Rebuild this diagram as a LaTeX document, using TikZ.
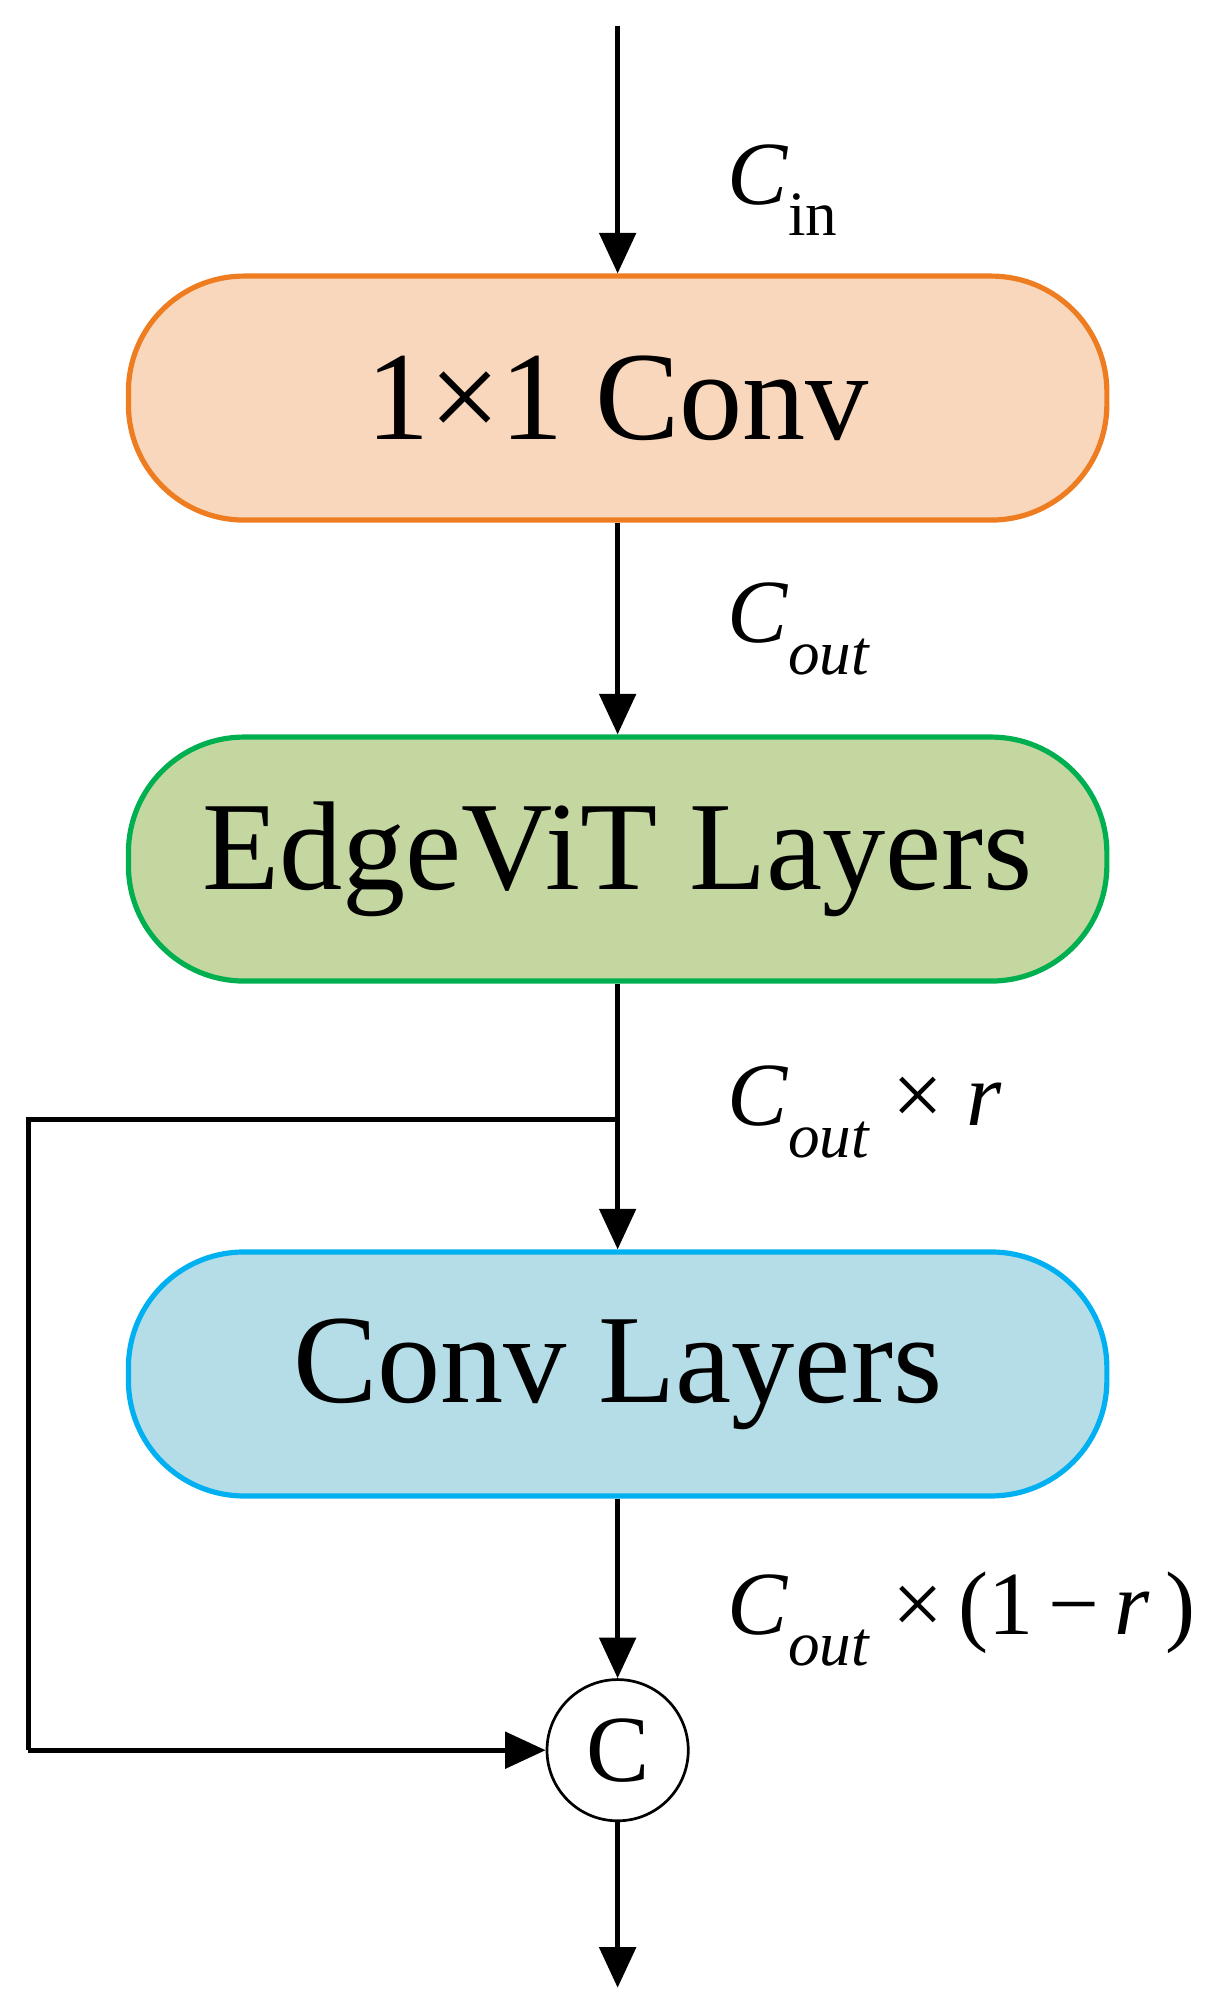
\documentclass[tikz,border=0pt]{standalone}
\usepackage{fontspec}
\setmainfont{Liberation Serif}
\usetikzlibrary{arrows.meta}
\definecolor{ob}{HTML}{EE7D22}\definecolor{of}{HTML}{F9D7BC}
\definecolor{gb}{HTML}{00B050}\definecolor{gf}{HTML}{C4D7A0}
\definecolor{bb}{HTML}{00B0F0}\definecolor{bf}{HTML}{B5DDE7}
\newcommand{\Cl}{\textit{C}}
\newcommand{\sbx}[1]{\raisebox{-0.35em}{\fontsize{28}{28}\selectfont #1}}
\begin{document}
\begin{tikzpicture}[x=0.02cm,y=-0.02cm,
 box/.style={rounded corners=0.02cm*90,line width=2.3pt,minimum width=0.02cm*762,minimum height=0.02cm*190,font=\fontsize{56}{60}\selectfont},
 ar/.style={line width=2.3pt,-{Triangle[length=18pt,width=16pt]}},
 ln/.style={line width=2.3pt},
 lab/.style={anchor=west,font=\fontsize{40}{42}\selectfont}]
\useasboundingbox (0,0) rectangle (948,1563);
\coordinate (top) at (481,20);
\node[box,draw=ob,fill=of] (b1) at (481,310) {1×1 Conv};
\node[box,draw=gb,fill=gf] (b2) at (481,669) {EdgeViT Layers};
\node[box,draw=bb,fill=bf] (b3) at (481,1070) {Conv Layers};
\node[circle,draw,line width=1.2pt,minimum size=0.02cm*110,inner sep=0pt,font=\fontsize{42}{42}\selectfont] (c) at (481,1363) {C};
\coordinate (end) at (481,1548);
\coordinate (j) at (481,872);
\coordinate (l1) at (22,872);
\coordinate (l2) at (22,1363);
\draw[ar] (top) -- (b1.north);
\draw[ar] (b1.south) -- (b2.north);
\draw[ar] (b2.south) -- (b3.north);
\draw[ar] (b3.south) -- (c.north);
\draw[ar] (c.south) -- (end);
\draw[ln] (j) -- (l1) -- (l2);
\draw[ar] (l2) -- (c.west);
\node[lab] (t1) at (560,148) {\Cl\sbx{in}};
\node[lab] (t2) at (560,490) {\Cl\sbx{\textit{out}}};
\node[lab] (t3) at (560,866) {\Cl\sbx{\textit{out}} × \textit{r}};
\node[lab] (t4) at (560,1261) {\Cl\sbx{\textit{out}} ×\,(1\,−\,\textit{r}\,)};
\end{tikzpicture}
\end{document}
